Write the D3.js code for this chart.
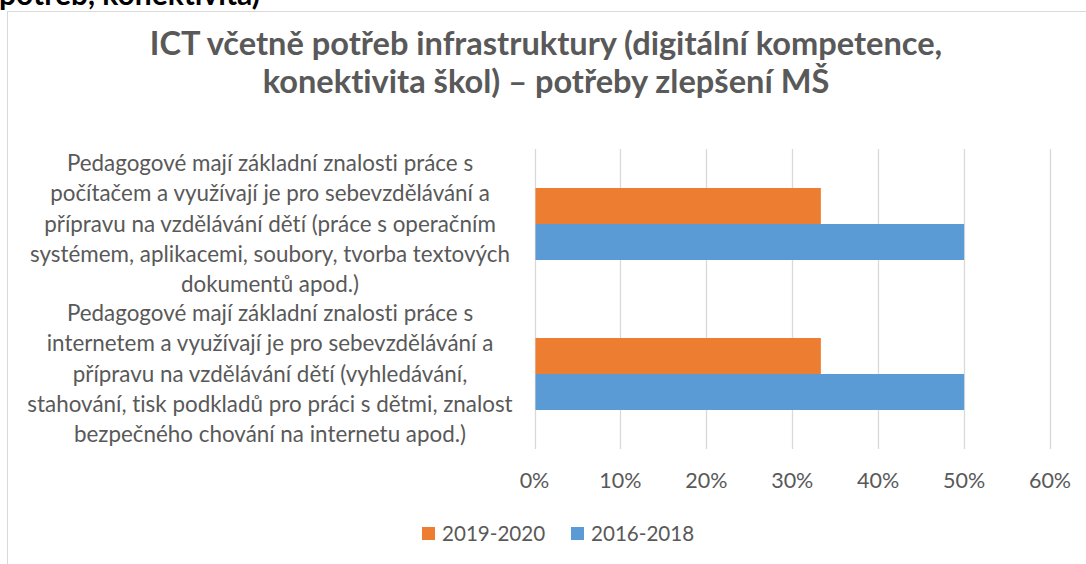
<!DOCTYPE html>
<html>
<head>
<meta charset="utf-8">
<script src="https://cdn.jsdelivr.net/npm/d3@7"></script>
<style>
  body { margin: 0; background: #fff; }
  text { font-family: Lato, "Open Sans", sans-serif; font-variant-ligatures: none; font-feature-settings: "liga" 0, "clig" 0; }
</style>
</head>
<body>
<div id="canvas"></div>
<script>
// data
const categories = [
  ['Pedagogové mají základní znalosti práce s',
   'počítačem a využívají je pro sebevzdělávání a',
   'přípravu na vzdělávání dětí (práce s operačním',
   'systémem, aplikacemi, soubory, tvorba textových',
   'dokumentů apod.)'],
  ['Pedagogové mají základní znalosti práce s',
   'internetem a využívají je pro sebevzdělávání a',
   'přípravu na vzdělávání dětí (vyhledávání,',
   'stahování, tisk podkladů pro práci s dětmi, znalost',
   'bezpečného chování na internetu apod.)']
];
const seriesNames = ['2019-2020', '2016-2018'];
const values2019 = [0.3333, 0.3333];
const values2016 = [0.5, 0.5];
const ticks = [0, 0.1, 0.2, 0.3, 0.4, 0.5, 0.6];
const titleLines = ['ICT včetně potřeb infrastruktury (digitální kompetence,',
                    'konektivita škol) – potřeby zlepšení MŠ'];

const colors = { '2019-2020': '#ED7D31', '2016-2018': '#5B9BD5' };
const width = 1086, height = 564;

const svg = d3.select('#canvas').append('svg')
    .attr('width', width)
    .attr('height', height);

// piece of the heading above the chart, cut by the page edge
svg.append('text')
    .attr('x', -1)
    .attr('y', 5)
    .attr('font-size', 30)
    .attr('font-weight', 'bold')
    .attr('fill', '#000')
    .text('potřeb, konektivita)');

// chart frame
svg.append('rect')
    .attr('x', 7.5).attr('y', 11.5)
    .attr('width', 1100).attr('height', 600)
    .attr('fill', '#fff')
    .attr('stroke', '#d9d9d9');

// title
svg.append('g').selectAll('text')
    .data(titleLines)
    .join('text')
    .attr('x', 546)
    .attr('y', (d, i) => 55 + i * 38)
    .attr('text-anchor', 'middle')
    .attr('font-size', 32.6)
    .attr('font-weight', 'bold')
    .attr('fill', '#595959')
    .text(d => d);

const xScale = d3.scaleLinear()
    .domain([0, 0.6])
    .range([534.5, 1050]);

const yScale = d3.scaleBand()
    .domain(d3.range(categories.length))
    .range([149, 449]);

const ySub = d3.scaleBand()
    .domain(seriesNames)
    .range([0, yScale.bandwidth()])
    .paddingOuter(1.083);

// gridlines + tick labels
const grid = svg.append('g').attr('id', 'grid');
grid.selectAll('line')
    .data(ticks)
    .join('line')
    .attr('x1', d => Math.round(xScale(d)) + 0.5)
    .attr('x2', d => Math.round(xScale(d)) + 0.5)
    .attr('y1', 149)
    .attr('y2', 449)
    .attr('stroke', '#d9d9d9')
    .attr('stroke-width', 1.3);

svg.append('g').attr('id', 'x-axis')
    .selectAll('text')
    .data(ticks)
    .join('text')
    .attr('x', d => xScale(d))
    .attr('y', 488)
    .attr('text-anchor', 'middle')
    .attr('font-size', 21.5)
    .attr('fill', '#595959')
    .text(d => d3.format('.0%')(d));

// bars
const rows = categories.map((c, i) => ({
  i, values: [
    { key: '2019-2020', v: values2019[i] },
    { key: '2016-2018', v: values2016[i] }
  ]
}));

const dataRegion = svg.append('g').attr('id', 'data');
dataRegion.selectAll('g')
    .data(rows)
    .join('g')
    .attr('transform', d => `translate(0,${yScale(d.i)})`)
    .selectAll('rect')
    .data(d => d.values)
    .join('rect')
    .attr('x', xScale(0) + 1)
    .attr('y', d => ySub(d.key))
    .attr('width', d => xScale(d.v) - xScale(0) - 1)
    .attr('height', ySub.bandwidth())
    .attr('fill', d => colors[d.key]);

// category labels
const labels = svg.append('g').attr('id', 'y-axis');
categories.forEach((lines, i) => {
  const cy = yScale(i) + yScale.bandwidth() / 2;
  labels.append('text')
      .attr('text-anchor', 'middle')
      .attr('font-size', 22.4)
      .attr('fill', '#595959')
      .selectAll('tspan')
      .data(lines)
      .join('tspan')
      .attr('x', 270)
      .attr('y', (d, j) => cy + (j - (lines.length - 1) / 2) * 30.2 + 7.5)
      .text(d => d);
});

// legend
const legend = svg.append('g').attr('id', 'legend');
const legendX = [422, 571];
seriesNames.forEach((name, i) => {
  legend.append('rect')
      .attr('x', legendX[i]).attr('y', 527)
      .attr('width', 13).attr('height', 13)
      .attr('fill', colors[name]);
  legend.append('text')
      .attr('x', legendX[i] + 20)
      .attr('y', 541)
      .attr('font-size', 20.6)
      .attr('fill', '#595959')
      .text(name);
});
</script>
</body>
</html>
